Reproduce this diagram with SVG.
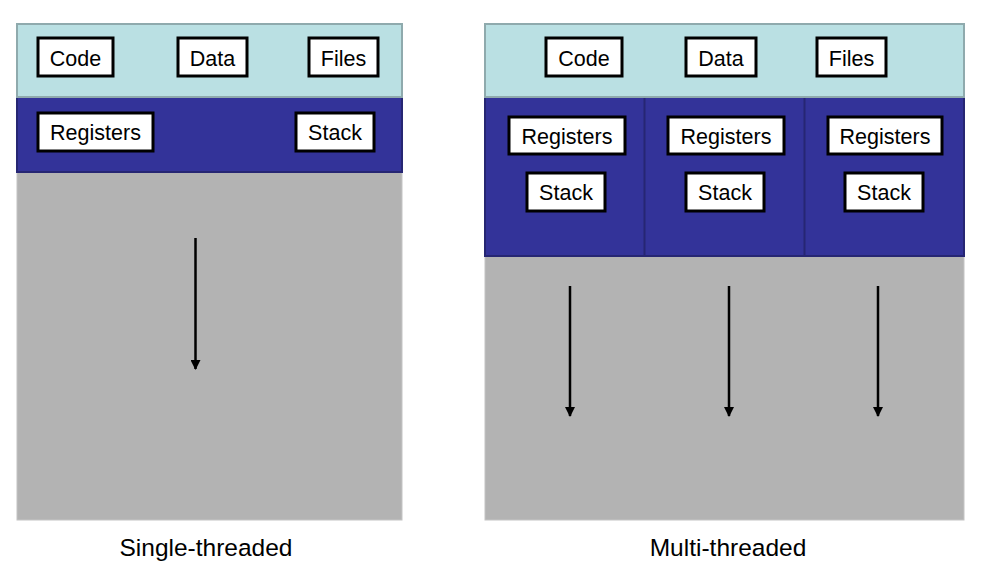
<svg xmlns="http://www.w3.org/2000/svg" width="981" height="573" viewBox="0 0 981 573">
<style>
.lb{fill:#bae0e3;stroke:#8faaad;stroke-width:2}
.db{fill:#333399;stroke:#262673;stroke-width:2}
.gr{fill:#b3b3b3;stroke:#c4c4c4;stroke-width:1}
.box{fill:#ffffff;stroke:#000000;stroke-width:3}
.t{font-family:"Liberation Sans",Arial,sans-serif;font-size:21.5px;fill:#000;text-anchor:middle}
.cap{font-family:"Liberation Sans",Arial,sans-serif;font-size:24.5px;fill:#000;text-anchor:middle}
.ar{stroke:#000;stroke-width:2.5;fill:none;marker-end:url(#ah)}
</style>
<defs>
<marker id="ah" markerWidth="10" markerHeight="10" refX="9" refY="5" orient="auto" markerUnits="userSpaceOnUse" viewBox="0 0 10 10">
<path d="M0,0 L10,5 L0,10 Z" fill="#000"/>
</marker>
</defs>
<rect width="981" height="573" fill="#fff"/>
<g id="single">
<rect class="gr" x="17" y="172" width="385" height="348"/>
<rect class="db" x="17" y="97" width="385" height="75"/>
<rect class="lb" x="17" y="24" width="385" height="73"/>
</g>
<g id="s-code"><rect class="box" x="38" y="38" width="75" height="38"/><text class="t" x="75.5" y="66">Code</text></g>
<g id="s-data"><rect class="box" x="178" y="38" width="69" height="38"/><text class="t" x="212.5" y="66">Data</text></g>
<g id="s-files"><rect class="box" x="309" y="38" width="69" height="38"/><text class="t" x="343.5" y="66">Files</text></g>
<g id="s-registers"><rect class="box" x="38" y="113" width="115" height="38"/><text class="t" x="95.5" y="140">Registers</text></g>
<g id="s-stack"><rect class="box" x="296" y="113" width="78" height="38"/><text class="t" x="335" y="140">Stack</text></g>
<g id="multi">
<rect class="gr" x="485" y="256" width="479" height="264"/>
<rect class="db" x="485" y="97" width="479" height="159"/>
<line x1="644.5" y1="97" x2="644.5" y2="256" stroke="#262673" stroke-width="2"/>
<line x1="804.5" y1="97" x2="804.5" y2="256" stroke="#262673" stroke-width="2"/>
<rect class="lb" x="485" y="24" width="479" height="73"/>
</g>
<g id="m-code"><rect class="box" x="546" y="38" width="76" height="38"/><text class="t" x="584" y="66">Code</text></g>
<g id="m-data"><rect class="box" x="686" y="38" width="70" height="38"/><text class="t" x="721" y="66">Data</text></g>
<g id="m-files"><rect class="box" x="817" y="38" width="69" height="38"/><text class="t" x="851.5" y="66">Files</text></g>
<g id="m-registers1"><rect class="box" x="509" y="117" width="116" height="37"/><text class="t" x="567" y="143.5">Registers</text></g>
<g id="m-stack1"><rect class="box" x="527" y="173" width="78" height="38"/><text class="t" x="566" y="200">Stack</text></g>
<g id="m-registers2"><rect class="box" x="668" y="117" width="116" height="37"/><text class="t" x="726" y="143.5">Registers</text></g>
<g id="m-stack2"><rect class="box" x="686" y="173" width="78" height="38"/><text class="t" x="725" y="200">Stack</text></g>
<g id="m-registers3"><rect class="box" x="828" y="117" width="114" height="37"/><text class="t" x="885" y="143.5">Registers</text></g>
<g id="m-stack3"><rect class="box" x="845" y="173" width="78" height="38"/><text class="t" x="884" y="200">Stack</text></g>
<g id="connectors">
<line class="ar" x1="195.5" y1="238" x2="195.5" y2="369"/>
<line class="ar" x1="570" y1="286" x2="570" y2="416"/>
<line class="ar" x1="729" y1="286" x2="729" y2="416"/>
<line class="ar" x1="878" y1="286" x2="878" y2="416"/>
</g>
<g id="captions">
<text class="cap" x="206" y="556">Single-threaded</text>
<text class="cap" x="728" y="556">Multi-threaded</text>
</g>
</svg>
